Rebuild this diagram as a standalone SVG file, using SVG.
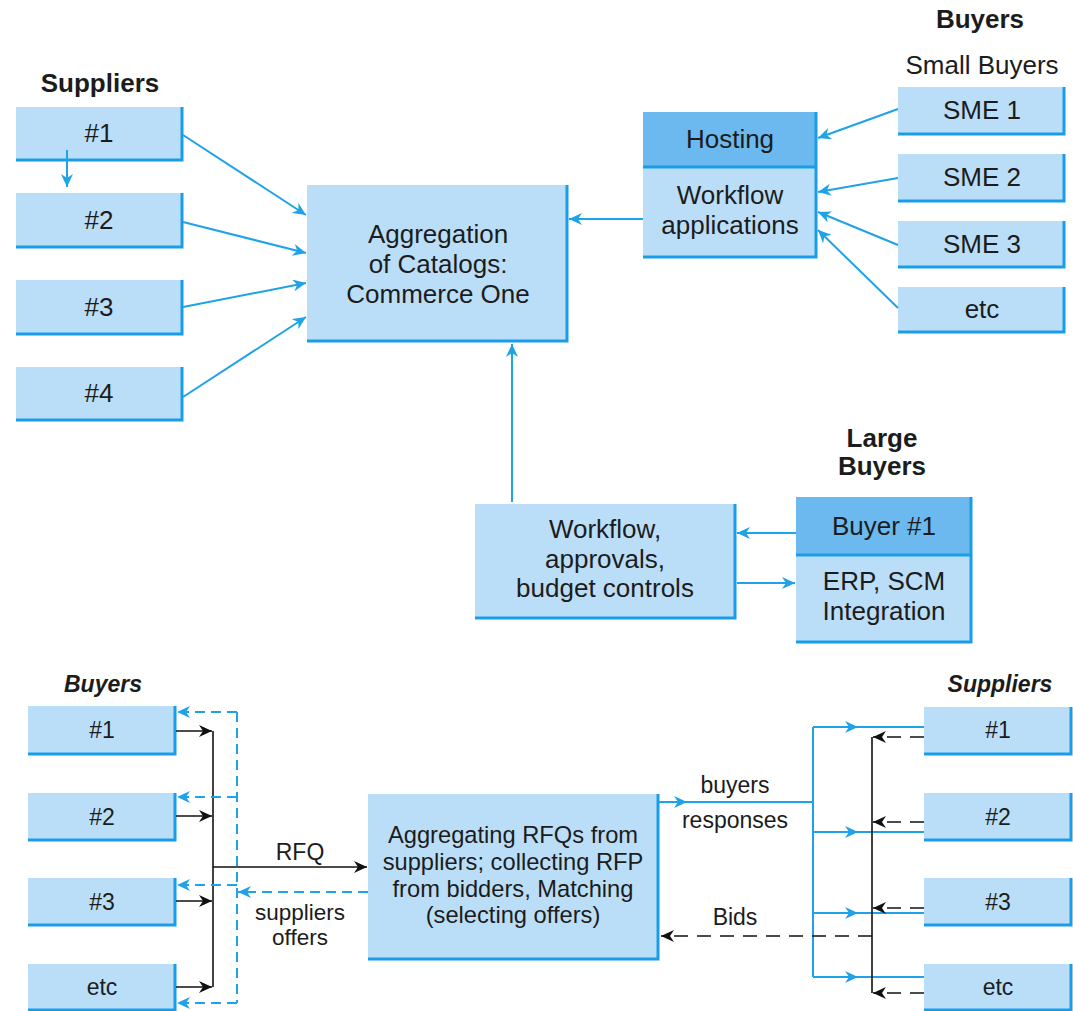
<svg xmlns="http://www.w3.org/2000/svg" width="1073" height="1011" viewBox="0 0 1073 1011">
  <defs>
    <marker id="ab" markerUnits="userSpaceOnUse" markerWidth="14" markerHeight="12" refX="13" refY="6" orient="auto">
      <path d="M0,0 L13,6 L0,12 L4,6 z" fill="#1ea2e8"/>
    </marker>
    <marker id="ak" markerUnits="userSpaceOnUse" markerWidth="14" markerHeight="12" refX="13" refY="6" orient="auto">
      <path d="M0,0 L13,6 L0,12 L4,6 z" fill="#111"/>
    </marker>
    <style>
      .box { fill: #bbdef8; }
      .hdr { fill: #6bb9ef; }
      .edge { fill: none; stroke: #1a9de8; stroke-width: 3; }
      .div { stroke: #1a9de8; stroke-width: 3; }
      text { font-family: "Liberation Sans", Arial, sans-serif; fill: #1c1c1c; text-anchor: middle; }
      .t26 { font-size: 26px; }
      .t23 { font-size: 23px; }
      .t24 { font-size: 23.7px; }
      .t22 { font-size: 22.5px; }
      .b26 { font-size: 26px; font-weight: bold; }
      .bi23 { font-size: 23px; font-weight: bold; font-style: italic; }
      .cb { fill: none; stroke: #1ea2e8; stroke-width: 2; }
      .cbd { fill: none; stroke: #1ea2e8; stroke-width: 2; stroke-dasharray: 10 6; }
      .ck { fill: none; stroke: #111; stroke-width: 1.6; }
      .ckd { fill: none; stroke: #111; stroke-width: 1.6; stroke-dasharray: 14 9; }
    </style>
  </defs>

  <!-- section labels -->
  <text class="b26" x="100" y="92">Suppliers</text>
  <text class="b26" x="980" y="28">Buyers</text>
  <text class="t26" x="982" y="74">Small Buyers</text>
  <text class="b26" x="882" y="447">Large</text>
  <text class="b26" x="882" y="475">Buyers</text>
  <text class="bi23" x="103" y="692">Buyers</text>
  <text class="bi23" x="1000" y="692">Suppliers</text>

  <!-- supplier nodes (top) -->
  <g id="sup1"><rect class="box" x="16" y="107" width="166" height="53"/><path class="edge" d="M182,107 V160 H16"/><text class="t26" x="99" y="142">#1</text></g>
  <g id="sup2"><rect class="box" x="16" y="193" width="166" height="54"/><path class="edge" d="M182,193 V247 H16"/><text class="t26" x="99" y="229">#2</text></g>
  <g id="sup3"><rect class="box" x="16" y="280" width="166" height="54"/><path class="edge" d="M182,280 V334 H16"/><text class="t26" x="99" y="316">#3</text></g>
  <g id="sup4"><rect class="box" x="16" y="367" width="166" height="53"/><path class="edge" d="M182,367 V420 H16"/><text class="t26" x="99" y="402">#4</text></g>

  <!-- catalog aggregation -->
  <g id="aggregation">
    <rect class="box" x="307" y="185" width="260" height="156"/>
    <path class="edge" d="M567,185 V341 H307"/>
    <text class="t26" x="438" y="243">Aggregation</text>
    <text class="t26" x="438" y="273">of Catalogs:</text>
    <text class="t26" x="438" y="303">Commerce One</text>
  </g>

  <!-- hosting -->
  <g id="hosting">
    <rect class="hdr" x="643" y="112" width="173" height="55"/>
    <rect class="box" x="643" y="167" width="173" height="90"/>
    <line class="div" x1="643" y1="167" x2="816" y2="167"/>
    <path class="edge" d="M816,112 V257 H643"/>
    <text class="t26" x="730" y="148">Hosting</text>
    <text class="t26" x="730" y="204">Workflow</text>
    <text class="t26" x="730" y="234">applications</text>
  </g>

  <!-- small buyers -->
  <g id="sme1"><rect class="box" x="898" y="87" width="166" height="47"/><path class="edge" d="M1064,87 V134 H898"/><text class="t26" x="982" y="119">SME 1</text></g>
  <g id="sme2"><rect class="box" x="898" y="154" width="166" height="47"/><path class="edge" d="M1064,154 V201 H898"/><text class="t26" x="982" y="186">SME 2</text></g>
  <g id="sme3"><rect class="box" x="898" y="221" width="166" height="46"/><path class="edge" d="M1064,221 V267 H898"/><text class="t26" x="982" y="253">SME 3</text></g>
  <g id="sme-etc"><rect class="box" x="898" y="287" width="166" height="45"/><path class="edge" d="M1064,287 V332 H898"/><text class="t26" x="982" y="318">etc</text></g>

  <!-- workflow / approvals -->
  <g id="workflow">
    <rect class="box" x="475" y="504" width="260" height="114"/>
    <path class="edge" d="M735,504 V618 H475"/>
    <text class="t26" x="605" y="538">Workflow,</text>
    <text class="t26" x="605" y="568">approvals,</text>
    <text class="t26" x="605" y="597">budget controls</text>
  </g>

  <!-- large buyer -->
  <g id="buyer1">
    <rect class="hdr" x="796" y="497" width="175" height="58"/>
    <rect class="box" x="796" y="555" width="175" height="87"/>
    <line class="div" x1="796" y1="555" x2="971" y2="555"/>
    <path class="edge" d="M971,497 V642 H796"/>
    <text class="t26" x="884" y="535">Buyer #1</text>
    <text class="t26" x="884" y="590">ERP, SCM</text>
    <text class="t26" x="884" y="620">Integration</text>
  </g>

  <!-- bottom: buyers -->
  <g id="buy1"><rect class="box" x="28" y="706" width="147" height="48"/><path class="edge" d="M175,706 V754 H28"/><text class="t23" x="102" y="738">#1</text></g>
  <g id="buy2"><rect class="box" x="28" y="793" width="147" height="47"/><path class="edge" d="M175,793 V840 H28"/><text class="t23" x="102" y="825">#2</text></g>
  <g id="buy3"><rect class="box" x="28" y="878" width="147" height="47"/><path class="edge" d="M175,878 V925 H28"/><text class="t23" x="102" y="910">#3</text></g>
  <g id="buy-etc"><rect class="box" x="28" y="964" width="147" height="46"/><path class="edge" d="M175,964 V1010 H28"/><text class="t23" x="102" y="995">etc</text></g>

  <!-- bottom: RFQ aggregation -->
  <g id="rfq">
    <rect class="box" x="368" y="794" width="290" height="165"/>
    <path class="edge" d="M658,794 V959 H368"/>
    <text class="t24" x="513" y="843">Aggregating RFQs from</text>
    <text class="t24" x="513" y="870">suppliers; collecting RFP</text>
    <text class="t24" x="513" y="897">from bidders, Matching</text>
    <text class="t24" x="513" y="923">(selecting offers)</text>
  </g>

  <!-- bottom: suppliers -->
  <g id="bsup1"><rect class="box" x="924" y="707" width="147" height="47"/><path class="edge" d="M1071,707 V754 H924"/><text class="t23" x="998" y="738">#1</text></g>
  <g id="bsup2"><rect class="box" x="924" y="793" width="147" height="47"/><path class="edge" d="M1071,793 V840 H924"/><text class="t23" x="998" y="825">#2</text></g>
  <g id="bsup3"><rect class="box" x="924" y="878" width="147" height="47"/><path class="edge" d="M1071,878 V925 H924"/><text class="t23" x="998" y="910">#3</text></g>
  <g id="bsup-etc"><rect class="box" x="924" y="964" width="147" height="46"/><path class="edge" d="M1071,964 V1010 H924"/><text class="t23" x="998" y="995">etc</text></g>

  <!-- connectors -->
  <g id="connectors">
    <!-- suppliers into catalog aggregation -->
    <line class="cb" x1="67" y1="150" x2="67" y2="187" marker-end="url(#ab)"/>
    <line class="cb" x1="183" y1="135" x2="306" y2="215" marker-end="url(#ab)"/>
    <line class="cb" x1="183" y1="222" x2="306" y2="253" marker-end="url(#ab)"/>
    <line class="cb" x1="183" y1="307" x2="306" y2="283" marker-end="url(#ab)"/>
    <line class="cb" x1="183" y1="397" x2="306" y2="317" marker-end="url(#ab)"/>
    <!-- hosting and small buyers -->
    <line class="cb" x1="643" y1="219" x2="569" y2="219" marker-end="url(#ab)"/>
    <line class="cb" x1="898" y1="109" x2="818" y2="138" marker-end="url(#ab)"/>
    <line class="cb" x1="898" y1="178" x2="818" y2="192" marker-end="url(#ab)"/>
    <line class="cb" x1="898" y1="245" x2="818" y2="212" marker-end="url(#ab)"/>
    <line class="cb" x1="898" y1="308" x2="818" y2="230" marker-end="url(#ab)"/>
    <!-- large buyers -->
    <line class="cb" x1="512" y1="502" x2="512" y2="344" marker-end="url(#ab)"/>
    <line class="cb" x1="796" y1="533" x2="737" y2="533" marker-end="url(#ab)"/>
    <line class="cb" x1="737" y1="583" x2="795" y2="583" marker-end="url(#ab)"/>

    <!-- RFQ from buyers -->
    <path class="ck" d="M176,731 H212" marker-end="url(#ak)"/>
    <path class="ck" d="M176,816 H212" marker-end="url(#ak)"/>
    <path class="ck" d="M176,901 H212" marker-end="url(#ak)"/>
    <path class="ck" d="M176,987 H212" marker-end="url(#ak)"/>
    <path class="ck" d="M213,731 V987"/>
    <path class="ck" d="M213,867 H367" marker-end="url(#ak)"/>
    <text class="t23" x="300" y="860">RFQ</text>

    <!-- supplier offers back to buyers -->
    <path class="cbd" d="M237,712 V1003"/>
    <path class="cbd" d="M368,892 H238" marker-end="url(#ab)"/>
    <path class="cbd" d="M237,712 H177" marker-end="url(#ab)"/>
    <path class="cbd" d="M237,797 H177" marker-end="url(#ab)"/>
    <path class="cbd" d="M237,885 H177" marker-end="url(#ab)"/>
    <path class="cbd" d="M237,1003 H177" marker-end="url(#ab)"/>
    <text class="t22" x="300" y="920">suppliers</text>
    <text class="t22" x="300" y="945">offers</text>

    <!-- buyers responses to suppliers -->
    <path class="cb" d="M659,802 H687 H813" marker-mid="url(#ab)"/>
    <path class="cb" d="M813,727 V977"/>
    <path class="cb" d="M813,727 H858 H924" marker-mid="url(#ab)"/>
    <path class="cb" d="M813,832 H858 H924" marker-mid="url(#ab)"/>
    <path class="cb" d="M813,913 H858 H924" marker-mid="url(#ab)"/>
    <path class="cb" d="M813,977 H858 H924" marker-mid="url(#ab)"/>
    <text class="t23" x="735" y="793">buyers</text>
    <text class="t23" x="735" y="828">responses</text>

    <!-- bids from suppliers -->
    <path class="ck" d="M872,737 V993"/>
    <path class="ckd" d="M924,737 H873" marker-end="url(#ak)"/>
    <path class="ckd" d="M924,822 H873" marker-end="url(#ak)"/>
    <path class="ckd" d="M924,908 H873" marker-end="url(#ak)"/>
    <path class="ckd" d="M924,993 H873" marker-end="url(#ak)"/>
    <path class="ckd" d="M872,936 H661" marker-end="url(#ak)"/>
    <text class="t23" x="735" y="925">Bids</text>
  </g>
</svg>
